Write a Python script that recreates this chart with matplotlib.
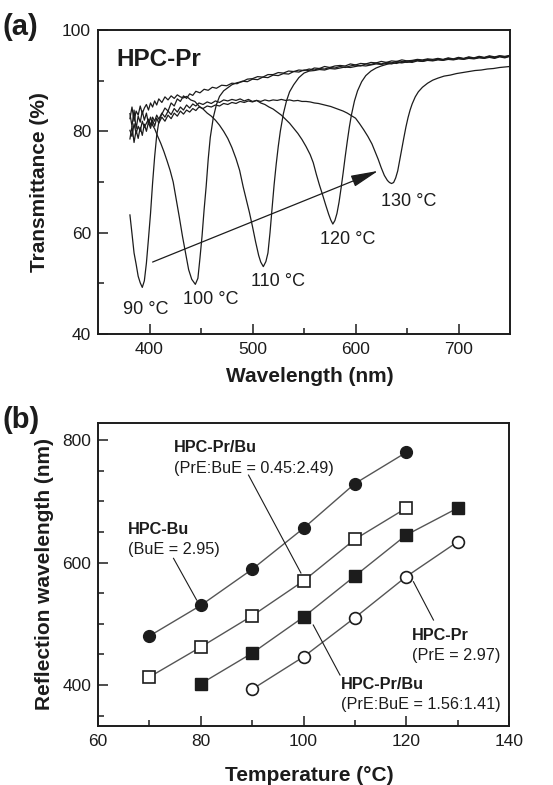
import matplotlib
matplotlib.use("Agg")
import matplotlib.pyplot as plt
from matplotlib.ticker import FixedLocator

plt.rcParams['font.family'] = ['Liberation Sans', 'DejaVu Sans']

# ---------------- Panel (a) data: transmittance spectra of HPC-Pr ----------------
wl_90 = [381, 383, 385, 387, 389, 391, 393, 395, 397, 399, 401, 403, 405, 407, 409, 411, 413, 415,
         418, 421, 424, 427, 430, 433, 436, 439, 442, 445, 449, 453, 457, 461, 465,
         470, 475, 480, 485, 490, 495, 500, 505, 510, 515, 520, 525, 530, 535, 540, 545, 550, 555]
tr_90 = [63.5, 59.8, 56.0, 53.8, 51.4, 50.1, 49.2, 50.5, 54.0, 58.8, 63.8, 69.8, 75.0, 79.2, 81.8, 83.0, 83.8, 84.6,
         84.0, 85.6, 85.0, 86.4, 85.9, 87.0, 86.5, 87.4, 87.1, 87.9, 87.6, 88.3, 88.1, 88.7, 88.5,
         89.1, 89.0, 89.5, 89.4, 89.9, 89.8, 90.3, 90.2, 90.7, 90.6, 91.1, 91.0, 91.4, 91.3, 91.8, 91.7, 92.1, 92.0]

wl_100 = [381, 383, 385, 387, 389, 391, 393, 395, 397, 399, 401, 403, 405,
          408, 411, 414, 417, 420, 423, 426, 429, 432, 435, 438, 441,
          444.5, 447, 449, 451, 453, 455, 457, 459, 462, 465, 468, 472, 476, 480,
          485, 490, 495, 500, 505, 510, 515, 520, 525, 530, 535, 540, 545, 550, 555]
tr_100 = [83.5, 81.0, 84.2, 80.5, 83.0, 81.8, 84.0, 82.2, 83.6, 81.5, 82.8, 81.2, 80.5,
          79.0, 77.6, 76.0, 74.2, 72.3, 70.0, 66.5, 63.0, 59.3, 56.0, 52.7, 50.8,
          49.8, 51.0, 55.0, 59.3, 64.5, 69.1, 74.5, 78.8, 82.8, 85.3, 86.9, 88.0, 88.6, 89.2,
          89.6, 89.8, 90.3, 90.4, 90.8, 90.7, 91.2, 91.2, 91.6, 91.5, 91.9, 91.8, 92.1, 92.0, 92.3]

wl_110 = [381, 383, 385, 387, 389, 391, 393, 395, 397, 399, 401, 403, 405, 407, 409,
          412, 415, 418, 421, 424, 427, 430, 433, 436,
          440, 444, 448, 452, 456, 460, 464, 468, 472, 476, 480, 484,
          487.5, 491, 494, 497, 500, 503, 506, 508, 510.5, 513, 515, 517, 519, 521, 523, 525, 527,
          530, 533, 536, 540, 545, 550, 555]
tr_110 = [82.5, 84.8, 82.0, 84.0, 83.2, 85.0, 83.5, 84.6, 85.3, 84.2, 85.6, 84.8, 86.0, 85.2, 86.4,
          85.7, 86.8, 86.2, 87.0, 86.5, 87.2, 86.8, 86.6, 86.9,
          86.2, 85.9, 85.0, 84.4, 83.6, 83.0, 82.2, 81.2, 80.0, 78.6, 76.8, 74.6,
          72.3, 69.0, 66.5, 64.0, 61.2, 58.2, 55.5, 54.2, 53.3, 54.3, 56.0, 60.0, 64.8, 69.5, 73.5, 77.0, 80.0,
          83.5, 86.0, 87.8, 89.2, 90.6, 91.5, 91.9]

# shared wavelength grid for the high-transmittance tails
wl_tail = [560, 565, 570, 575, 580, 585, 590, 595, 600, 605, 610, 615, 620, 625, 630, 635, 640, 645, 650,
           655, 660, 665, 670, 675, 680, 685, 690, 695, 700, 705, 710, 715, 720, 725, 730, 735, 740, 745, 750]
tail_90 = [92.5, 92.4, 92.8, 92.6, 92.9, 93.0, 92.9, 93.3, 93.1, 93.4, 93.3, 93.6, 93.5, 93.8, 93.6, 93.9,
           93.8, 94.1, 93.9, 94.0, 94.2, 94.1, 94.3, 94.2, 94.4, 94.2, 94.5, 94.3, 94.6, 94.4, 94.7, 94.5,
           94.8, 94.6, 94.9, 94.7, 94.9, 94.8, 95.0]
tail_100 = [92.1, 92.4, 92.3, 92.6, 92.5, 92.8, 92.6, 92.9, 93.1, 92.9, 93.3, 93.2, 93.5, 93.3, 93.6, 93.5,
            93.8, 93.6, 93.9, 93.8, 94.0, 93.9, 94.2, 94.0, 94.2, 94.1, 94.3, 94.2, 94.4, 94.3, 94.5, 94.4,
            94.6, 94.5, 94.7, 94.5, 94.8, 94.6, 94.9]
tail_110 = [92.0, 92.2, 92.1, 92.4, 92.3, 92.5, 92.7, 92.6, 92.8, 93.0, 92.9, 93.1, 93.3, 93.2, 93.4, 93.3,
            93.6, 93.5, 93.7, 93.6, 93.9, 93.8, 94.0, 93.9, 94.1, 94.0, 94.2, 94.1, 94.3, 94.2, 94.4, 94.3,
            94.5, 94.4, 94.6, 94.4, 94.7, 94.5, 94.8]

wl_120 = [381, 383, 385, 387, 389, 391, 393, 395, 397, 399, 401, 403, 405, 407, 409,
          412, 415, 418, 421, 424, 427, 430, 433, 436, 439, 442, 445, 448,
          452, 456, 460, 464, 468, 472, 476, 480, 484, 488, 492, 496, 500, 504, 508, 512, 516, 520,
          524, 528, 532, 536, 540, 544, 548,
          552, 556, 559, 562, 565, 568, 571, 574, 576, 578, 580, 582, 584, 586, 588, 590, 592, 594, 596,
          599, 602, 606, 610, 615, 620, 625, 630, 635,
          640, 645, 650, 655, 660, 665, 670, 675, 680, 685, 690, 695, 700, 705, 710, 715, 720, 725, 730,
          735, 740, 745, 750]
tr_120 = [80.2, 79.0, 81.5, 79.6, 81.0, 80.0, 82.0, 80.8, 81.6, 82.4, 81.2, 82.8, 82.0, 83.2, 82.4,
          83.6, 82.8, 84.0, 83.3, 84.5, 83.8, 84.8, 84.2, 85.2, 84.6, 85.4, 85.0, 85.6,
          85.3, 85.8, 85.5, 86.0, 85.7, 86.2, 86.0, 86.3, 86.1, 86.4, 86.0, 86.3, 85.9, 86.1, 85.6, 85.3, 84.8, 84.4,
          83.8, 83.2, 82.4, 81.6, 80.6, 79.6, 78.4,
          77.0, 75.4, 73.8, 71.5, 69.4, 67.5, 65.5, 63.6, 62.5, 61.7, 62.4, 63.8, 66.0, 68.8, 71.8, 75.0, 78.0, 80.8, 83.2,
          86.0, 88.0, 89.8, 91.0, 91.9, 92.5, 92.9, 93.2, 93.5,
          93.4, 93.8, 93.6, 93.9, 94.0, 93.8, 94.1, 94.0, 94.3, 94.1, 94.4, 94.2, 94.5, 94.3, 94.6, 94.4, 94.7, 94.5, 94.8,
          94.6, 94.9, 94.7, 94.9]

wl_130 = [381, 383, 385, 387, 389, 391, 393, 395, 397, 399, 401, 403, 405, 407, 409,
          412, 415, 418, 421, 424, 427, 430, 433, 436, 439, 442, 445, 448,
          452, 456, 460, 464, 468, 472, 476, 480, 484, 488, 492, 496, 500, 504, 508, 512, 516, 520,
          524, 528, 532, 536, 540, 544, 548,
          552, 556, 560, 564, 568, 572, 576, 580, 584, 588, 592, 596, 600,
          604, 608, 612, 616, 619, 622, 625, 628, 631, 633, 635, 637, 639, 641, 643, 645, 647, 649, 651, 653, 655,
          658, 661, 665, 670, 675, 680, 686, 692, 698, 704, 710, 716, 722, 728, 734, 740, 745, 750]
tr_130 = [78.5, 81.0, 77.8, 80.2, 78.6, 80.8, 79.2, 81.4, 80.0, 81.8, 80.6, 82.2, 81.0, 82.6, 81.6,
          82.8, 82.0, 83.2, 82.5, 83.6, 83.0, 84.0, 83.4, 84.2, 83.8, 84.5, 84.1, 84.8,
          84.5, 85.0, 84.8, 85.2, 85.0, 85.5, 85.3, 85.7, 85.5, 85.9, 85.7, 86.0, 85.8, 86.1, 85.9, 86.2, 86.0, 86.2,
          86.1, 86.3, 86.1, 86.2, 86.0, 86.1, 85.9,
          85.9, 85.8, 85.6, 85.5, 85.3, 85.1, 84.9, 84.6, 84.3, 84.0, 83.6, 83.1, 82.6,
          81.5, 80.3, 79.0, 77.5, 76.0, 74.5, 72.8, 71.3, 70.3, 69.9, 69.7, 69.9, 70.8, 72.2, 74.4, 76.6, 78.8, 80.9,
          82.7, 84.2, 85.4,
          86.8, 87.8, 88.7, 89.5, 90.1, 90.5, 90.9, 91.1, 91.4, 91.6, 91.8, 92.0, 92.1, 92.3, 92.4, 92.6, 92.7, 92.8]

temp_labels_a = ["90 °C", "100 °C", "110 °C", "120 °C", "130 °C"]
temp_label_pos = [(396, 44.9), (459, 46.9), (525, 50.3), (592, 58.6), (652, 66.1)]

# ---------------- Panel (b) data: reflection wavelength vs temperature ----------------
temp_bu = [70, 80, 90, 100, 110, 120]
refl_bu = [480, 530, 589, 656, 729, 780]
temp_prbu_045 = [70, 80, 90, 100, 110, 120]
refl_prbu_045 = [413, 462, 513, 570, 638, 689]
temp_prbu_156 = [80, 90, 100, 110, 120, 130]
refl_prbu_156 = [402, 452, 511, 578, 645, 689]
temp_pr = [90, 100, 110, 120, 130]
refl_pr = [393, 446, 510, 577, 634]

# ---------------- Figure ----------------
W, H = 553, 785
fig = plt.figure(figsize=(W / 100, H / 100), dpi=100)

def frac(l, t, r, b):
    return [l / W, 1 - b / H, (r - l) / W, (b - t) / H]

ink = '#1c1c1c'
axa = fig.add_axes(frac(98, 30, 510, 334))
axb = fig.add_axes(frac(98, 423, 509, 726))

for ax in (axa, axb):
    for s in ax.spines.values():
        s.set_linewidth(1.4)
        s.set_color(ink)
    ax.tick_params(which='both', direction='in', top=False, right=False, colors=ink,
                   labelsize=12.5, width=1.1)
    ax.tick_params(which='major', length=7)
    ax.tick_params(which='minor', length=4.5)
    ax.tick_params(axis='y', pad=5)
    ax.tick_params(axis='x', pad=6)

# Panel (a)
lw_sp = 0.9
axa.plot(wl_90 + wl_tail, tr_90 + tail_90, color=ink, lw=lw_sp)
axa.plot(wl_100 + wl_tail, tr_100 + tail_100, color=ink, lw=lw_sp)
axa.plot(wl_110 + wl_tail, tr_110 + tail_110, color=ink, lw=lw_sp)
axa.plot(wl_120, tr_120, color=ink, lw=lw_sp)
axa.plot(wl_130, tr_130, color=ink, lw=lw_sp)
axa.set_xlim(350, 750)
axa.set_ylim(40, 100)
axa.xaxis.set_major_locator(FixedLocator([400, 500, 600, 700]))
axa.xaxis.set_minor_locator(FixedLocator([450, 550, 650]))
axa.yaxis.set_major_locator(FixedLocator([40, 60, 80, 100]))
axa.yaxis.set_minor_locator(FixedLocator([50, 70, 90]))
axa.set_xlabel('Wavelength (nm)', fontsize=15, fontweight='bold', color=ink)
axa.xaxis.set_label_coords(0.515, -0.11)
axa.set_ylabel('Transmittance (%)', fontsize=15, fontweight='bold', color=ink)
axa.yaxis.set_label_coords(-0.118, 0.5)
axa.text(368, 94.2, 'HPC-Pr', fontsize=17.5, fontweight='bold', color=ink, ha='left', va='center')
for lab, (x, y) in zip(temp_labels_a, temp_label_pos):
    axa.text(x, y, lab, fontsize=13, color=ink, ha='center', va='center')
axa.annotate('', xy=(622, 72.2), xytext=(403, 54.2),
             arrowprops=dict(arrowstyle='-|>,head_length=1.7,head_width=0.36', lw=0.9,
                             color=ink, shrinkA=0, shrinkB=0))

# Panel (b)
line_col = '#555555'
axb.plot(temp_bu, refl_bu, '-', color=line_col, lw=1.0, marker='o', ms=8.5,
         mfc=ink, mec=ink, mew=1.0)
axb.plot(temp_prbu_045, refl_prbu_045, '-', color=line_col, lw=1.0, marker='s', ms=9,
         mfc='white', mec=ink, mew=1.2)
axb.plot(temp_prbu_156, refl_prbu_156, '-', color=line_col, lw=1.0, marker='s', ms=9,
         mfc=ink, mec=ink, mew=1.0)
axb.plot(temp_pr, refl_pr, '-', color=line_col, lw=1.0, marker='o', ms=8.5,
         mfc='white', mec=ink, mew=1.2)
axb.set_xlim(60, 140)
axb.set_ylim(333, 828)
axb.xaxis.set_major_locator(FixedLocator([60, 80, 100, 120, 140]))
axb.xaxis.set_minor_locator(FixedLocator([70, 90, 110, 130]))
axb.yaxis.set_major_locator(FixedLocator([400, 600, 800]))
axb.yaxis.set_minor_locator(FixedLocator([350, 450, 500, 550, 650, 700, 750]))
axb.set_xlabel('Temperature (°C)', fontsize=15, fontweight='bold', color=ink)
axb.xaxis.set_label_coords(0.515, -0.132)
axb.set_ylabel('Reflection wavelength (nm)', fontsize=15, fontweight='bold', color=ink)
axb.yaxis.set_label_coords(-0.107, 0.5)

ann_fs = 11.7
lead = dict(color=ink, lw=0.8)
# HPC-Pr/Bu (0.45:2.49)
axb.text(74.8, 787.8, 'HPC-Pr/Bu', fontsize=ann_fs, fontweight='bold', color=ink, ha='left', va='center')
axb.text(74.8, 753.5, '(PrE:BuE = 0.45:2.49)', fontsize=ann_fs, color=ink, ha='left', va='center')
axb.plot([89.3, 99.5], [742.9, 582.9], **lead)
# HPC-Bu
axb.text(65.8, 653.9, 'HPC-Bu', fontsize=ann_fs, fontweight='bold', color=ink, ha='left', va='center')
axb.text(65.8, 621.2, '(BuE = 2.95)', fontsize=ann_fs, color=ink, ha='left', va='center')
axb.plot([74.7, 79.2], [606.9, 538.8], **lead)
# HPC-Pr
axb.text(121.1, 480.8, 'HPC-Pr', fontsize=ann_fs, fontweight='bold', color=ink, ha='left', va='center')
axb.text(121.1, 448.2, '(PrE = 2.97)', fontsize=ann_fs, color=ink, ha='left', va='center')
axb.plot([121.4, 125.3], [568.7, 506.1], **lead)
# HPC-Pr/Bu (1.56:1.41)
axb.text(107.3, 400.8, 'HPC-Pr/Bu', fontsize=ann_fs, fontweight='bold', color=ink, ha='left', va='center')
axb.text(107.3, 368.2, '(PrE:BuE = 1.56:1.41)', fontsize=ann_fs, color=ink, ha='left', va='center')
axb.plot([101.9, 107.1], [498.0, 416.3], **lead)

# panel letters
fig.text(2 / W, 1 - 27 / H, '(a)', fontsize=21, fontweight='bold', color=ink, ha='left', va='center')
fig.text(2 / W, 1 - 420 / H, '(b)', fontsize=21, fontweight='bold', color=ink, ha='left', va='center')

fig.savefig('out.png', dpi=100, facecolor='white')
